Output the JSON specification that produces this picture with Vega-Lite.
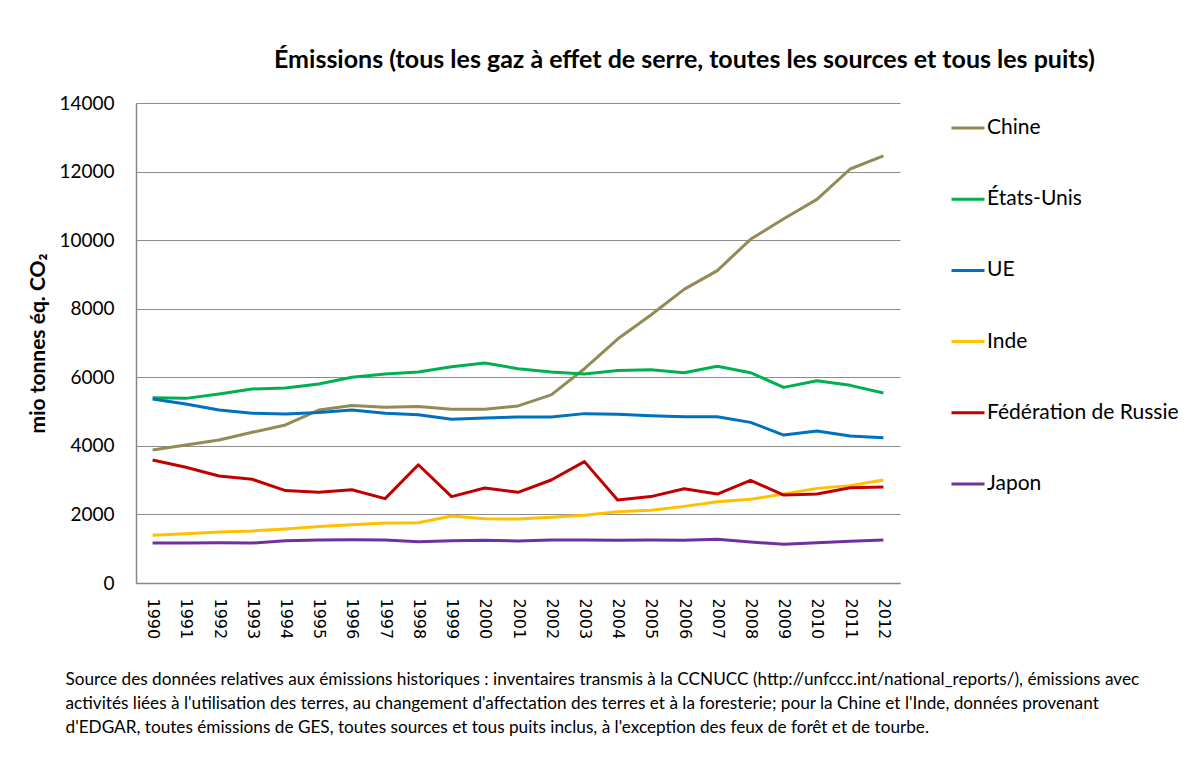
{
  "$schema": "https://vega.github.io/schema/vega-lite/v6.json",
  "autosize": "none",
  "width": 764,
  "height": 480,
  "padding": {"left": 136, "top": 103, "right": 300, "bottom": 177},
  "background": "white",
  "title": {
    "text": "Émissions (tous les gaz à effet de serre, toutes les sources et tous les puits)",
    "anchor": "start",
    "frame": "group",
    "dx": 138,
    "baseline": "alphabetic",
    "offset": 1,
    "font": "Lato",
    "fontSize": 25,
    "fontWeight": "bold",
    "color": "#000000"
  },
  "data": {
    "values": [
      {"annee":"1990","pays":"Chine","v":3880},{"annee":"1991","pays":"Chine","v":4025},{"annee":"1992","pays":"Chine","v":4170},{"annee":"1993","pays":"Chine","v":4395},{"annee":"1994","pays":"Chine","v":4610},{"annee":"1995","pays":"Chine","v":5045},{"annee":"1996","pays":"Chine","v":5180},{"annee":"1997","pays":"Chine","v":5125},{"annee":"1998","pays":"Chine","v":5145},{"annee":"1999","pays":"Chine","v":5065},{"annee":"2000","pays":"Chine","v":5065},{"annee":"2001","pays":"Chine","v":5165},{"annee":"2002","pays":"Chine","v":5485},{"annee":"2003","pays":"Chine","v":6250},{"annee":"2004","pays":"Chine","v":7115},{"annee":"2005","pays":"Chine","v":7815},{"annee":"2006","pays":"Chine","v":8565},{"annee":"2007","pays":"Chine","v":9110},{"annee":"2008","pays":"Chine","v":10025},{"annee":"2009","pays":"Chine","v":10625},{"annee":"2010","pays":"Chine","v":11190},{"annee":"2011","pays":"Chine","v":12075},{"annee":"2012","pays":"Chine","v":12455},
      {"annee":"1990","pays":"États-Unis","v":5405},{"annee":"1991","pays":"États-Unis","v":5385},{"annee":"1992","pays":"États-Unis","v":5515},{"annee":"1993","pays":"États-Unis","v":5660},{"annee":"1994","pays":"États-Unis","v":5690},{"annee":"1995","pays":"États-Unis","v":5805},{"annee":"1996","pays":"États-Unis","v":6000},{"annee":"1997","pays":"États-Unis","v":6095},{"annee":"1998","pays":"États-Unis","v":6155},{"annee":"1999","pays":"États-Unis","v":6310},{"annee":"2000","pays":"États-Unis","v":6415},{"annee":"2001","pays":"États-Unis","v":6250},{"annee":"2002","pays":"États-Unis","v":6155},{"annee":"2003","pays":"États-Unis","v":6095},{"annee":"2004","pays":"États-Unis","v":6195},{"annee":"2005","pays":"États-Unis","v":6220},{"annee":"2006","pays":"États-Unis","v":6135},{"annee":"2007","pays":"États-Unis","v":6320},{"annee":"2008","pays":"États-Unis","v":6135},{"annee":"2009","pays":"États-Unis","v":5705},{"annee":"2010","pays":"États-Unis","v":5900},{"annee":"2011","pays":"États-Unis","v":5765},{"annee":"2012","pays":"États-Unis","v":5540},
      {"annee":"1990","pays":"UE","v":5365},{"annee":"1991","pays":"UE","v":5220},{"annee":"1992","pays":"UE","v":5045},{"annee":"1993","pays":"UE","v":4950},{"annee":"1994","pays":"UE","v":4930},{"annee":"1995","pays":"UE","v":4970},{"annee":"1996","pays":"UE","v":5045},{"annee":"1997","pays":"UE","v":4950},{"annee":"1998","pays":"UE","v":4910},{"annee":"1999","pays":"UE","v":4775},{"annee":"2000","pays":"UE","v":4815},{"annee":"2001","pays":"UE","v":4840},{"annee":"2002","pays":"UE","v":4840},{"annee":"2003","pays":"UE","v":4940},{"annee":"2004","pays":"UE","v":4920},{"annee":"2005","pays":"UE","v":4880},{"annee":"2006","pays":"UE","v":4850},{"annee":"2007","pays":"UE","v":4850},{"annee":"2008","pays":"UE","v":4685},{"annee":"2009","pays":"UE","v":4315},{"annee":"2010","pays":"UE","v":4435},{"annee":"2011","pays":"UE","v":4290},{"annee":"2012","pays":"UE","v":4240},
      {"annee":"1990","pays":"Inde","v":1390},{"annee":"1991","pays":"Inde","v":1440},{"annee":"1992","pays":"Inde","v":1490},{"annee":"1993","pays":"Inde","v":1520},{"annee":"1994","pays":"Inde","v":1575},{"annee":"1995","pays":"Inde","v":1645},{"annee":"1996","pays":"Inde","v":1700},{"annee":"1997","pays":"Inde","v":1750},{"annee":"1998","pays":"Inde","v":1760},{"annee":"1999","pays":"Inde","v":1955},{"annee":"2000","pays":"Inde","v":1875},{"annee":"2001","pays":"Inde","v":1865},{"annee":"2002","pays":"Inde","v":1915},{"annee":"2003","pays":"Inde","v":1975},{"annee":"2004","pays":"Inde","v":2080},{"annee":"2005","pays":"Inde","v":2120},{"annee":"2006","pays":"Inde","v":2235},{"annee":"2007","pays":"Inde","v":2370},{"annee":"2008","pays":"Inde","v":2440},{"annee":"2009","pays":"Inde","v":2595},{"annee":"2010","pays":"Inde","v":2760},{"annee":"2011","pays":"Inde","v":2840},{"annee":"2012","pays":"Inde","v":3005},
      {"annee":"1990","pays":"Fédération de Russie","v":3590},{"annee":"1991","pays":"Fédération de Russie","v":3375},{"annee":"1992","pays":"Fédération de Russie","v":3120},{"annee":"1993","pays":"Fédération de Russie","v":3025},{"annee":"1994","pays":"Fédération de Russie","v":2695},{"annee":"1995","pays":"Fédération de Russie","v":2645},{"annee":"1996","pays":"Fédération de Russie","v":2720},{"annee":"1997","pays":"Fédération de Russie","v":2460},{"annee":"1998","pays":"Fédération de Russie","v":3450},{"annee":"1999","pays":"Fédération de Russie","v":2520},{"annee":"2000","pays":"Fédération de Russie","v":2770},{"annee":"2001","pays":"Fédération de Russie","v":2645},{"annee":"2002","pays":"Fédération de Russie","v":3005},{"annee":"2003","pays":"Fédération de Russie","v":3540},{"annee":"2004","pays":"Fédération de Russie","v":2420},{"annee":"2005","pays":"Fédération de Russie","v":2520},{"annee":"2006","pays":"Fédération de Russie","v":2750},{"annee":"2007","pays":"Fédération de Russie","v":2595},{"annee":"2008","pays":"Fédération de Russie","v":2995},{"annee":"2009","pays":"Fédération de Russie","v":2565},{"annee":"2010","pays":"Fédération de Russie","v":2595},{"annee":"2011","pays":"Fédération de Russie","v":2780},{"annee":"2012","pays":"Fédération de Russie","v":2800},
      {"annee":"1990","pays":"Japon","v":1165},{"annee":"1991","pays":"Japon","v":1165},{"annee":"1992","pays":"Japon","v":1175},{"annee":"1993","pays":"Japon","v":1165},{"annee":"1994","pays":"Japon","v":1235},{"annee":"1995","pays":"Japon","v":1255},{"annee":"1996","pays":"Japon","v":1265},{"annee":"1997","pays":"Japon","v":1255},{"annee":"1998","pays":"Japon","v":1205},{"annee":"1999","pays":"Japon","v":1235},{"annee":"2000","pays":"Japon","v":1245},{"annee":"2001","pays":"Japon","v":1225},{"annee":"2002","pays":"Japon","v":1255},{"annee":"2003","pays":"Japon","v":1255},{"annee":"2004","pays":"Japon","v":1245},{"annee":"2005","pays":"Japon","v":1255},{"annee":"2006","pays":"Japon","v":1245},{"annee":"2007","pays":"Japon","v":1275},{"annee":"2008","pays":"Japon","v":1195},{"annee":"2009","pays":"Japon","v":1130},{"annee":"2010","pays":"Japon","v":1175},{"annee":"2011","pays":"Japon","v":1215},{"annee":"2012","pays":"Japon","v":1255}
    ]
  },
  "mark": {"type": "line", "strokeWidth": 3, "strokeJoin": "round"},
  "encoding": {
    "x": {
      "field": "annee",
      "type": "ordinal",
      "scale": {"type": "point", "padding": 0.5},
      "axis": {
        "title": [
          "Source des données relatives aux émissions historiques : inventaires transmis à la CCNUCC (http://unfccc.int/national_reports/), émissions avec",
          "activités liées à l'utilisation des terres, au changement d'affectation des terres  et à la foresterie; pour la Chine et l'Inde, données provenant",
          "d'EDGAR, toutes émissions de GES, toutes sources et tous puits inclus, à l'exception des feux de forêt et de  tourbe."
        ],
        "titleX": -71,
        "titleY": 87,
        "titleAlign": "left",
        "titleAnchor": "start",
        "titleBaseline": "top",
        "titleFont": "Lato",
        "titleFontSize": 17.2,
        "titleFontWeight": "normal",
        "titleLineHeight": 24,
        "titleColor": "#000000",
        "labelAngle": 90,
        "labelAlign": "left",
        "labelBaseline": "middle",
        "labelFont": "DejaVu Sans",
        "labelFontSize": 16,
        "labelColor": "#000000",
        "labelPadding": 15,
        "ticks": false,
        "grid": false,
        "domainColor": "#868686",
        "domainWidth": 1.5
      }
    },
    "y": {
      "field": "v",
      "type": "quantitative",
      "scale": {"domain": [0, 14000], "nice": false, "zero": true},
      "axis": {
        "title": "mio tonnes éq. CO₂",
        "titleX": -98,
        "titleY": 240,
        "titleAngle": -90,
        "titleAlign": "center",
        "titleBaseline": "middle",
        "titleFont": "Lato",
        "titleFontSize": 21,
        "titleFontWeight": "bold",
        "titleColor": "#000000",
        "values": [0, 2000, 4000, 6000, 8000, 10000, 12000, 14000],
        "format": "d",
        "labelFont": "Lato",
        "labelFontSize": 19,
        "labelColor": "#000000",
        "labelPadding": 22,
        "ticks": false,
        "grid": true,
        "gridColor": "#8c8c8c",
        "gridWidth": 1.2,
        "domainColor": "#868686",
        "domainWidth": 1.5
      }
    },
    "color": {
      "field": "pays",
      "type": "nominal",
      "scale": {
        "domain": ["Chine", "États-Unis", "UE", "Inde", "Fédération de Russie", "Japon"],
        "range": ["#948A54", "#00B050", "#0070C0", "#FFC000", "#C00000", "#7030A0"]
      },
      "legend": {
        "title": null,
        "orient": "none",
        "legendX": 814,
        "legendY": 7,
        "padding": 0,
        "symbolType": "stroke",
        "symbolSize": 1089,
        "symbolStrokeWidth": 3,
        "labelOffset": 1,
        "labelFont": "Lato",
        "labelFontSize": 21,
        "labelColor": "#000000",
        "rowPadding": 43.2,
        "labelLimit": 400
      }
    }
  },
  "config": {
    "view": {"stroke": null}
  }
}
